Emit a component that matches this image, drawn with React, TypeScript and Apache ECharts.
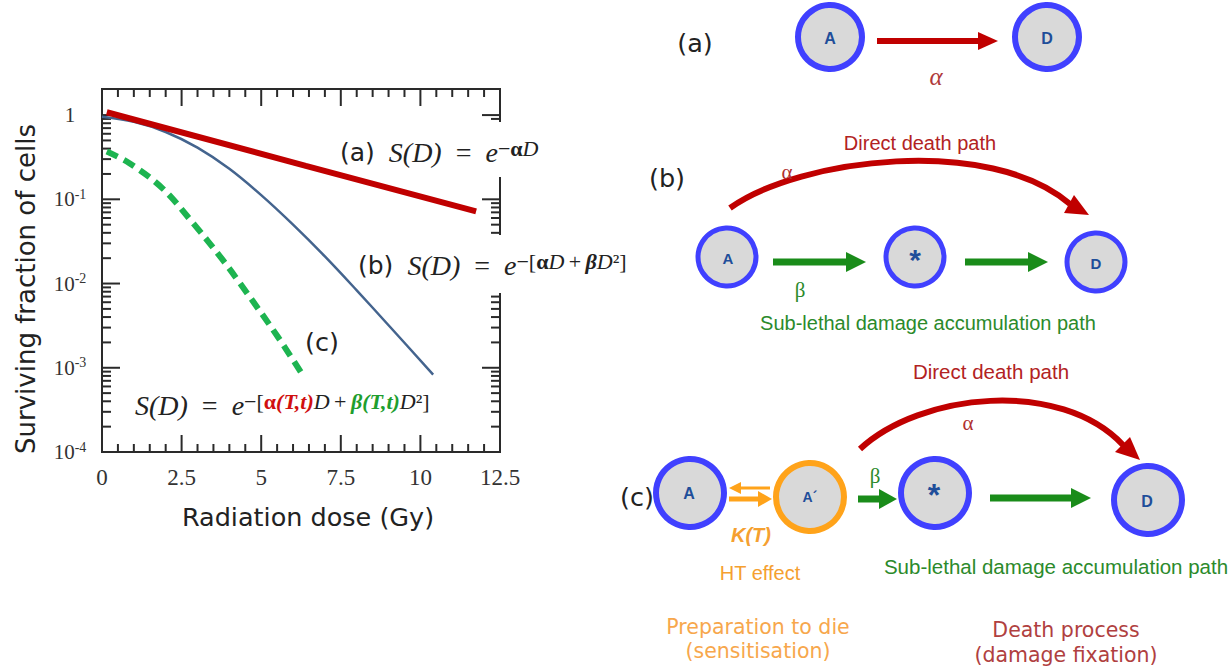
import React, { useEffect, useRef } from 'react';
import * as echarts from 'echarts';

// ---- data ----
const doseMin = 0;
const doseMax = 12.5;
const doseTickStep = 2.5;
const survMin = 1e-4;
const survMax = 2.04;

// axis tick positions
const xMajorTicks = [0, 2.5, 5, 7.5, 10, 12.5];
const xMinorOffsets = [0.5, 1, 1.5, 2];
const yMajorTicks = [1e-4, 1e-3, 1e-2, 1e-1, 1];
const yMinorMantissas = [2, 3, 4, 5, 6, 7, 8, 9];

// (a) alpha only (red)
const redDose = [0.15, 6.4, 11.75];
const redSurv = [1.08, 0.25, 0.072];

// (b) LQ curve (blue)
const blueDose = [0, 1, 2, 3, 4, 5, 6, 7, 8, 9, 10.4];
const blueSurv = [0.955, 0.83, 0.63, 0.41, 0.23, 0.112, 0.05, 0.021, 0.0083, 0.0032, 0.00083];

// (c) thermo-radiation curve (green dashed)
const greenDose = [0.15, 0.85, 1.9, 2.9, 3.75, 4.3, 5.5, 6.25];
const greenSurv = [0.37, 0.27, 0.135, 0.05, 0.02, 0.0105, 0.0024, 0.00088];

const xMinorTicks: number[] = [];
xMajorTicks.slice(0, -1).forEach((t) => xMinorOffsets.forEach((o) => xMinorTicks.push(t + o)));
const yMinorTicks: number[] = [];
yMajorTicks.slice(0, -1).forEach((d) => yMinorMantissas.forEach((m) => yMinorTicks.push(+(m * d).toPrecision(3))));

const SERIF = '"Liberation Serif", "Times New Roman", serif';
const SANS = '"DejaVu Sans", Verdana, sans-serif';
const ARIAL = '"Liberation Sans", Arial, sans-serif';

const RED = '#c00000';
const GREEN_ARROW = '#1a8c1a';
const GREEN_TXT = '#2b8a2b';
const ORANGE = '#ffa31a';
const BLUE_RING = '#4040ff';
const NAVY = '#1f4e9a';
const AXIS = '#2a2a2a';

const zip = (a: number[], b: number[]) => a.map((v, i) => [v, b[i]]);

function ring(cx: number, cy: number, r: number, stroke: string, lw: number) {
  return { type: 'circle', shape: { cx, cy, r }, style: { fill: '#d9d9d9', stroke, lineWidth: lw } };
}
function label(x: number, y: number, text: string, fontFamily: string, fontSize: number, color: string, extra: any = {}) {
  return {
    type: 'text',
    x,
    y,
    style: { text, fontFamily, fontSize, fill: color, textAlign: 'center', textVerticalAlign: 'middle', ...extra },
  };
}
function hArrow(x1: number, y: number, x2: number, len: number, half: number, width: number, color: string) {
  const dir = x2 > x1 ? 1 : -1;
  const base = x2 - dir * len;
  return [
    { type: 'line', shape: { x1, y1: y, x2: base + dir * 1, y2: y }, style: { stroke: color, lineWidth: width } },
    { type: 'polygon', shape: { points: [[base, y - half], [x2, y], [base, y + half]] }, style: { fill: color } },
  ];
}

const letterStyle = { fontWeight: 'bold' };
const TS = '\u2009';

const sup = (extra: any) => ({ fontFamily: SERIF, fontSize: 22, fill: '#222', lineHeight: 10, verticalAlign: 'top', ...extra });
const formulaRich = {
  lab: { fontFamily: SANS, fontSize: 25, fill: '#222', lineHeight: 30 },
  m: { fontFamily: SERIF, fontStyle: 'italic', fontSize: 28, fill: '#222', lineHeight: 30 },
  eq: { fontFamily: SERIF, fontSize: 28, fill: '#222', lineHeight: 30 },
  s: sup({}),
  sb: sup({ fontWeight: 'bold' }),
  si: sup({ fontStyle: 'italic' }),
  sbi: sup({ fontStyle: 'italic', fontWeight: 'bold' }),
  ra: sup({ fontWeight: 'bold', fill: '#d01010' }),
  rai: sup({ fontWeight: 'bold', fontStyle: 'italic', fill: '#d01010' }),
  gb: sup({ fontWeight: 'bold', fontStyle: 'italic', fill: '#1e9e2e' }),
};

// tick drawn as a thin filled rectangle (crisp at any position)
const tickRect = (x: number, y: number, w: number, h: number) => ({
  type: 'rect',
  shape: { x, y, width: w, height: h },
  style: { fill: AXIS },
});

export default function App() {
  const ref = useRef<HTMLDivElement>(null);

  useEffect(() => {
    if (!ref.current) return;
    const chart = echarts.init(ref.current, undefined, { renderer: 'svg' });

    const axisLine = { show: true, onZero: false, lineStyle: { color: AXIS, width: 2 } };

    const diagram: any[] = [
      // (a)
      label(695, 43, '(a)', SANS, 25.5, '#222'),
      ...hArrow(877, 41, 998, 20, 9, 6, RED),
      ring(830, 37, 32, BLUE_RING, 6),
      ring(1047, 37, 32, BLUE_RING, 6),
      label(830, 38, 'A', ARIAL, 16, NAVY, letterStyle),
      label(1047, 38, 'D', ARIAL, 16, NAVY, letterStyle),
      label(936, 76, 'α', SERIF, 25, '#b03a3a', { fontStyle: 'italic' }),

      // (b)
      label(667, 178, '(b)', SANS, 25.5, '#222'),
      label(920, 143, 'Direct death path', ARIAL, 20, '#b22222'),
      {
        type: 'bezierCurve',
        shape: { x1: 730, y1: 208, cpx1: 800, cpy1: 158, cpx2: 990, cpy2: 135, x2: 1070, y2: 204 },
        style: { stroke: RED, lineWidth: 6, fill: null },
      },
      { type: 'polygon', shape: { points: [[1089, 215], [1074, 195], [1064, 213]] }, style: { fill: RED } },
      label(787, 172, 'α', SERIF, 21, '#b03030'),
      ...hArrow(773, 262, 866, 20, 10, 7, GREEN_ARROW),
      ...hArrow(965, 262, 1048, 20, 10, 7, GREEN_ARROW),
      ring(727, 257, 29, BLUE_RING, 5),
      ring(915, 257, 29, BLUE_RING, 5),
      ring(1096, 262, 29, BLUE_RING, 5),
      label(728, 258, 'A', ARIAL, 15, NAVY, letterStyle),
      label(915, 259, '*', ARIAL, 30, NAVY, letterStyle),
      label(1096, 263, 'D', ARIAL, 15, NAVY, letterStyle),
      label(800, 290, 'β', SERIF, 21, '#2b8a2b'),
      label(928, 323, 'Sub-lethal damage accumulation path', ARIAL, 20, GREEN_TXT),

      // (c)
      label(637, 497, '(c)', SANS, 25.5, '#222'),
      label(991, 371, 'Direct death path', ARIAL, 20.5, '#b22222'),
      {
        type: 'bezierCurve',
        shape: { x1: 860, y1: 449, cpx1: 920, cpy1: 393, cpx2: 1060, cpy2: 378, x2: 1123, y2: 445 },
        style: { stroke: RED, lineWidth: 6, fill: null },
      },
      { type: 'polygon', shape: { points: [[1140, 460], [1130, 437], [1115, 452]] }, style: { fill: RED } },
      label(968, 423, 'α', SERIF, 21, '#b03030'),
      ...hArrow(770, 488, 729, 12, 6, 3, ORANGE),
      ...hArrow(729, 499, 772, 14, 8, 5, ORANGE),
      ...hArrow(858, 499, 897, 18, 10, 7, GREEN_ARROW),
      ...hArrow(990, 498, 1091, 20, 10, 7, GREEN_ARROW),
      ring(690, 493, 34, BLUE_RING, 6),
      ring(810, 497, 34, ORANGE, 6),
      ring(935, 493, 34, BLUE_RING, 6),
      ring(1148, 500, 34, BLUE_RING, 6),
      label(689, 493, 'A', ARIAL, 16, NAVY, letterStyle),
      label(810, 497, 'A´', ARIAL, 14, NAVY, letterStyle),
      label(934, 495, '*', ARIAL, 32, NAVY, letterStyle),
      label(1147, 501, 'D', ARIAL, 16, NAVY, letterStyle),
      label(875, 476, 'β', SERIF, 21, '#2b8a2b'),
      label(751, 535, 'K(T)', ARIAL, 20, '#f5a030', { fontWeight: 'bold', fontStyle: 'italic' }),
      label(760, 573, 'HT effect', ARIAL, 20, '#f5a030'),
      label(1056, 566, 'Sub-lethal damage accumulation path', ARIAL, 20.5, GREEN_TXT),
      label(758, 627, 'Preparation to die', SANS, 20.5, '#f7a74c'),
      label(758, 651, '(sensitisation)', SANS, 20.5, '#f7a74c'),
      label(1066, 630, 'Death process', SANS, 20.5, '#b04040'),
      label(1066, 655, '(damage fixation)', SANS, 20.5, '#b04040'),
    ];

    const plotText: any[] = [
      { type: 'rect', z: 50, shape: { x: 482, y: 122, width: 40, height: 55 }, style: { fill: '#fff' } },
      { type: 'rect', z: 50, shape: { x: 482, y: 235, width: 40, height: 58 }, style: { fill: '#fff' } },
      {
        type: 'text',
        z: 60,
        x: 340,
        y: 152,
        style: {
          text: '{lab|(a)}{m|  S(D)}{eq|  =  }{m|e}{s|−}{sb|α}{si|D}',
          rich: formulaRich,
          textAlign: 'left',
          textVerticalAlign: 'middle',
        },
      },
      {
        type: 'text',
        z: 60,
        x: 358,
        y: 265,
        style: {
          text: `{lab|(b)}{m|  S(D)}{eq|  =  }{m|e}{s|−[}{sb|α}{si|D}{s|${TS}+${TS}}{sbi|β}{si|D}{s|²]}`,
          rich: formulaRich,
          textAlign: 'left',
          textVerticalAlign: 'middle',
        },
      },
      label(322, 342, '(c)', SANS, 25.5, '#222', { z: 60 }),
      {
        type: 'text',
        z: 60,
        x: 135,
        y: 405,
        style: {
          text: `{m|S(D)}{eq|  =  }{m|e}{s|−[}{ra|α}{rai|(T,t)}{si|D}{s|${TS}+${TS}}{gb|β(T,t)}{si|D}{s|²]}`,
          rich: formulaRich,
          textAlign: 'left',
          textVerticalAlign: 'middle',
        },
      },
      {
        type: 'text',
        x: 26,
        y: 289,
        rotation: Math.PI / 2,
        style: {
          text: 'Surviving fraction of cells',
          fontFamily: SANS,
          fontSize: 26,
          fill: '#222',
          textAlign: 'center',
          textVerticalAlign: 'middle',
        },
      },
    ];

    chart.setOption({
      animation: false,
      backgroundColor: '#fff',
      grid: {
        left: 102,
        right: 729,
        top: 89,
        bottom: 220,
        containLabel: false,
        show: true,
        borderColor: AXIS,
        borderWidth: 2,
        backgroundColor: 'transparent',
      },
      xAxis: {
        type: 'value',
        min: doseMin,
        max: doseMax,
        interval: doseTickStep,
        splitLine: { show: false },
        axisLine,
        axisTick: { show: false },
        axisLabel: { show: true, margin: 14, fontFamily: SERIF, fontSize: 23, color: '#333' },
        name: 'Radiation dose (Gy)',
        nameLocation: 'middle',
        nameGap: 52,
        nameTextStyle: { fontFamily: SANS, fontSize: 25.5, color: '#222', padding: [0, 0, 0, 14] },
      },
      yAxis: {
        type: 'log',
        logBase: 10,
        min: survMin,
        max: survMax,
        splitLine: { show: false },
        axisLine,
        axisTick: { show: false },
        axisLabel: {
          show: true,
          margin: 32,
          align: 'center',
          formatter: (v: number) => {
            const lg = Math.log10(v);
            const e = Math.round(lg);
            if (Math.abs(lg - e) > 1e-6) return '';
            if (e === 0) return '{n|1}';
            return `{n|10}{s|${e}}`;
          },
          rich: {
            n: { fontFamily: SERIF, fontSize: 21, color: '#333', lineHeight: 24 },
            s: { fontFamily: SERIF, fontSize: 14, color: '#333', lineHeight: 14, verticalAlign: 'top' },
          },
        },
      },
      series: [
        {
          type: 'line',
          data: zip(blueDose, blueSurv),
          smooth: 0.35,
          showSymbol: false,
          lineStyle: { color: '#44648e', width: 2.5 },
        },
        {
          type: 'line',
          data: zip(redDose, redSurv),
          showSymbol: false,
          lineStyle: { color: RED, width: 6 },
        },
        {
          type: 'line',
          data: zip(greenDose, greenSurv),
          smooth: 0.35,
          showSymbol: false,
          lineStyle: { color: '#1db450', width: 6, type: [12, 7], cap: 'butt' },
        },
      ],
    });

    // inside ticks, positioned through the chart's own axis scales
    const px = (x: number, y: number): number[] => chart.convertToPixel({ gridIndex: 0 }, [x, y]) as number[];
    const ticks: any[] = [];
    const addX = (v: number, len: number) => {
      const b = px(v, survMin);
      const t = px(v, survMax);
      ticks.push(tickRect(b[0] - 1, b[1] - len, 2, len), tickRect(t[0] - 1, t[1], 2, len));
    };
    const addY = (v: number, len: number) => {
      const l = px(doseMin, v);
      const r = px(doseMax, v);
      ticks.push(tickRect(l[0], l[1] - 1, len, 2), tickRect(r[0] - len, r[1] - 1, len, 2));
    };
    xMajorTicks.forEach((v) => addX(v, 17));
    xMinorTicks.forEach((v) => addX(v, 8));
    yMajorTicks.forEach((v) => addY(v, 18));
    yMinorTicks.forEach((v) => addY(v, 9));

    chart.setOption({ graphic: { elements: [...ticks, ...plotText, ...diagram] } });

    return () => chart.dispose();
  }, []);

  return (
    <div
      ref={ref}
      style={{ position: 'absolute', left: 0, top: 0, width: 1229, height: 672, background: '#fff' }}
    />
  );
}
